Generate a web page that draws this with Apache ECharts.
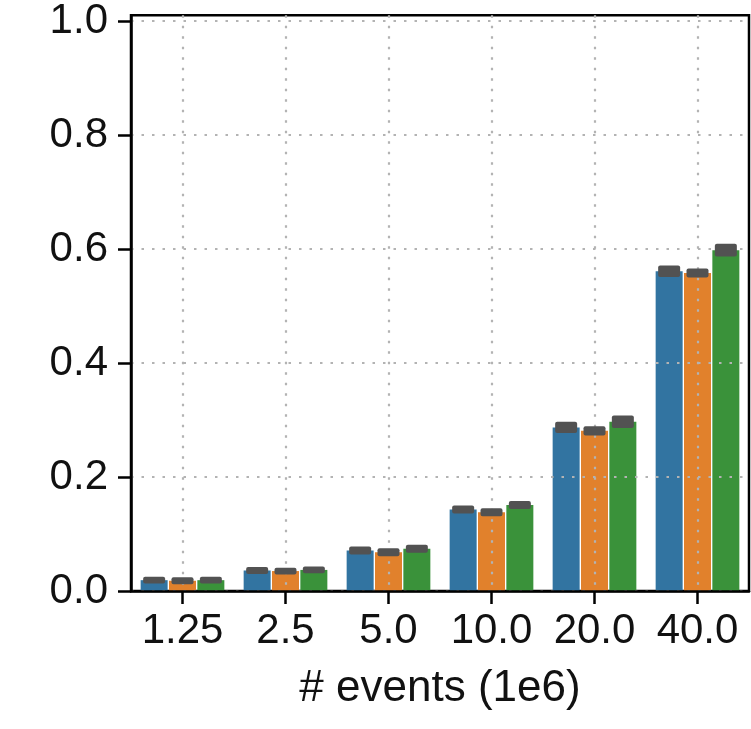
<!DOCTYPE html>
<html>
<head>
<meta charset="utf-8">
<script src="https://cdn.jsdelivr.net/npm/echarts@6/dist/echarts.min.js"></script>
<style>
  html, body { margin: 0; padding: 0; background: #ffffff; }
  #chart { width: 751px; height: 729px; }
</style>
</head>
<body>
<div id="chart"></div>
<script>
// Event counts (millions) on the x axis
const categories = ['1.25', '2.5', '5.0', '10.0', '20.0', '40.0'];
const yTicks = [0, 0.2, 0.4, 0.6, 0.8, 1.0];

// Mean values per configuration
const seriesA = [0.019, 0.036, 0.071, 0.143, 0.287, 0.561];
const seriesB = [0.018, 0.035, 0.068, 0.138, 0.281, 0.558];
const seriesC = [0.019, 0.037, 0.074, 0.151, 0.297, 0.598];

// Half-widths of the error intervals
const errA = [0.006, 0.006, 0.007, 0.007, 0.010, 0.010];
const errB = [0.006, 0.006, 0.007, 0.007, 0.008, 0.008];
const errC = [0.006, 0.006, 0.007, 0.007, 0.011, 0.011];

const colors = ['#3274a1', '#e1812c', '#3a923a'];
const FONT = "'Liberation Sans', Arial, sans-serif";
const BAR_W = 27;
const BAR_GAP = 0.05;
const PITCH = BAR_W * (1 + BAR_GAP);
const ERR_W = 22;

function barSeries(name, values, color) {
  return {
    name: name,
    type: 'bar',
    z: 1,
    barWidth: BAR_W,
    barGap: (BAR_GAP * 100) + '%',
    itemStyle: { color: color },
    emphasis: { disabled: true },
    data: values
  };
}

// Grey error boxes drawn over each bar, spanning mean - err .. mean + err
function errorSeries(means, errs, slot) {
  return {
    type: 'custom',
    z: 5,
    silent: true,
    data: means.map((m, i) => [i, m, errs[i]]),
    renderItem: function (params, api) {
      const i = api.value(0), m = api.value(1), e = api.value(2);
      const top = api.coord([i, m + e]);
      const bot = api.coord([i, m - e]);
      const cx = top[0] + (slot - 1) * PITCH;
      return {
        type: 'rect',
        shape: { x: cx - ERR_W / 2, y: top[1], width: ERR_W, height: bot[1] - top[1], r: 2 },
        style: { fill: '#525252' }
      };
    }
  };
}

const gridLine = { show: true, interval: 0, lineStyle: { color: '#b3b3b3', width: 2.2, type: [2.5, 8] } };

const chart = echarts.init(document.getElementById('chart'), null, { renderer: 'canvas' });
chart.setOption({
  animation: false,
  backgroundColor: '#ffffff',
  grid: {
    left: 131, right: 2, top: 15, bottom: 138,
    show: true, borderColor: '#000000', borderWidth: 2.5, backgroundColor: 'transparent'
  },
  xAxis: {
    type: 'category',
    data: categories,
    z: 3,
    name: '# events (1e6)',
    nameLocation: 'middle',
    nameGap: 76,
    nameTextStyle: { fontFamily: FONT, fontSize: 44, color: '#111111' },
    axisLine: { show: true, lineStyle: { color: '#000000', width: 2.5 } },
    axisTick: { show: true, interval: 0, alignWithLabel: true, length: 13, lineStyle: { color: '#000000', width: 2.5 } },
    axisLabel: { interval: 0, hideOverlap: false, fontFamily: FONT, fontSize: 42, color: '#111111', margin: 19 },
    splitLine: Object.assign({ alignWithLabel: true }, gridLine)
  },
  yAxis: {
    type: 'value',
    min: 0,
    max: 1.01,
    interval: 0.2,
    z: 3,
    axisLine: { show: true, lineStyle: { color: '#000000', width: 2.5 } },
    axisTick: { show: true, length: 13, customValues: yTicks, lineStyle: { color: '#000000', width: 2.5 } },
    axisLabel: {
      fontFamily: FONT, fontSize: 42, color: '#111111', margin: 23,
      customValues: yTicks,
      formatter: v => (Math.abs(v * 5 - Math.round(v * 5)) < 1e-6 ? v.toFixed(1) : '')
    },
    splitLine: gridLine
  },
  series: [
    barSeries('A', seriesA, colors[0]),
    barSeries('B', seriesB, colors[1]),
    barSeries('C', seriesC, colors[2]),
    errorSeries(seriesA, errA, 0),
    errorSeries(seriesB, errB, 1),
    errorSeries(seriesC, errC, 2)
  ]
});
</script>
</body>
</html>
